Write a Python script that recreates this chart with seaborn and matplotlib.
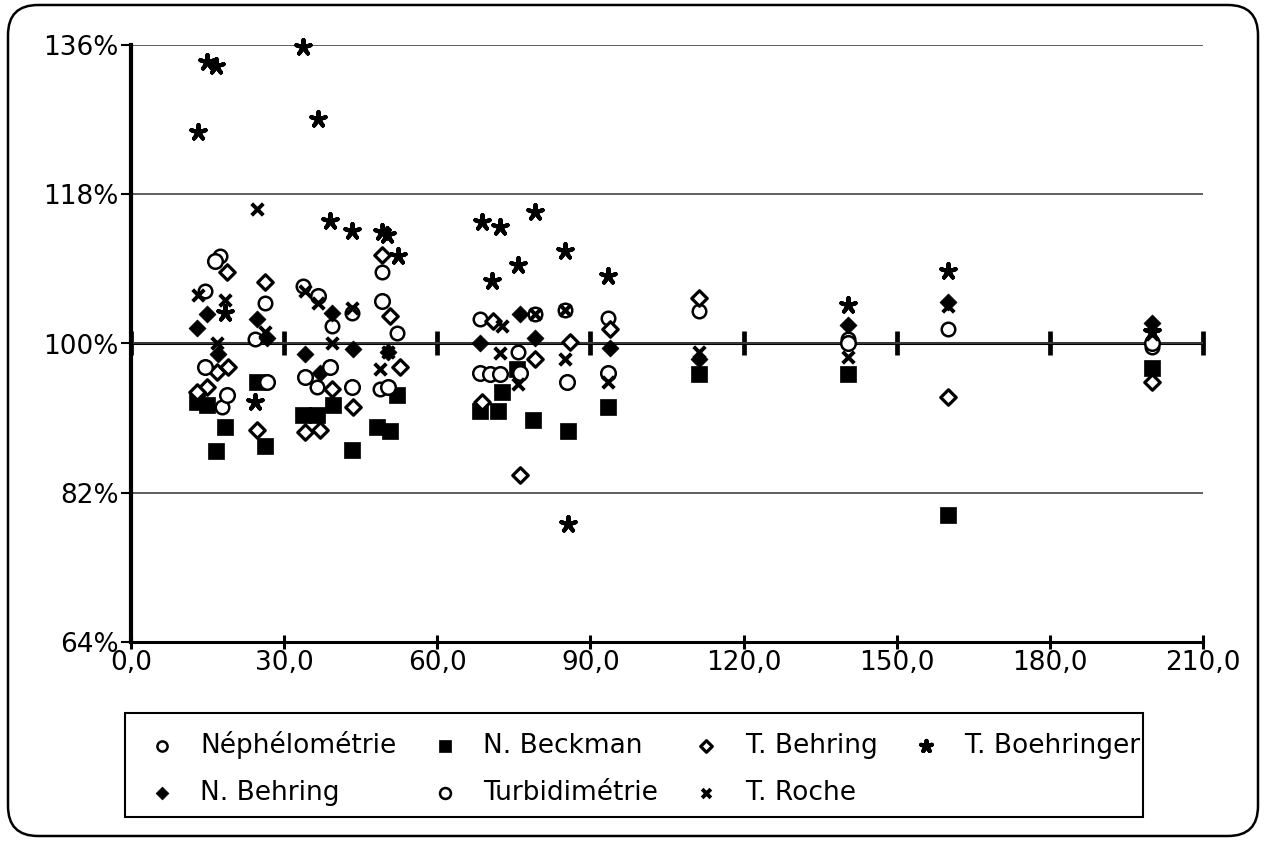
import matplotlib
matplotlib.use("Agg")
import matplotlib.pyplot as plt
import seaborn as sns
from matplotlib.ticker import FuncFormatter
from matplotlib.patches import FancyBboxPatch, Rectangle
from matplotlib.transforms import IdentityTransform

# ---------------- data ----------------
labels = ["Néphélométrie", "N. Beckman", "T. Behring", "T. Boehringer",
          "N. Behring", "Turbidimétrie", "T. Roche"]

neph_x = [14.5, 17.4, 26.2, 24.3, 17.8, 33.7, 39.4, 43.3, 49.2, 52.1, 36.4, 48.8,
          68.4, 79.1, 75.8, 85.0, 93.4, 111.3, 140.4, 160.0, 200.0]
neph_y = [106.3, 110.5, 104.9, 100.5, 92.4, 106.9, 102.1, 103.7, 108.6, 101.3, 94.7, 94.5,
          102.9, 103.5, 99.0, 104.1, 103.1, 103.9, 100.5, 101.7, 99.6]

beck_x = [12.9, 14.9, 18.4, 16.7, 24.7, 26.2, 33.7, 36.4, 39.6, 43.3, 48.2, 50.7, 52.1,
          68.4, 71.9, 72.7, 75.6, 78.7, 85.6, 93.4, 111.3, 140.4, 160.0, 200.0]
beck_y = [93.0, 92.6, 89.9, 87.0, 95.4, 87.6, 91.4, 91.4, 92.6, 87.2, 89.9, 89.4, 93.8,
          91.8, 91.8, 94.1, 96.9, 90.8, 89.4, 92.4, 96.3, 96.3, 79.3, 97.1]

tbeh_x = [18.8, 16.8, 19.0, 14.9, 12.9, 26.2, 24.7, 49.2, 50.7, 52.7, 39.4, 43.5, 34.1, 37.0,
          70.9, 68.8, 79.1, 86.0, 93.8, 76.2, 111.3, 160.0, 200.0]
tbeh_y = [108.6, 96.6, 97.2, 94.7, 94.1, 107.4, 89.6, 110.7, 103.3, 97.2, 94.5, 92.4, 89.3, 89.6,
          102.7, 93.0, 98.1, 100.2, 101.7, 84.2, 105.5, 93.6, 95.3]

tboe_x = [14.9, 16.6, 13.1, 33.7, 36.6, 24.3, 39.0, 43.3, 50.1, 49.2, 52.3, 18.4,
          68.8, 72.3, 79.1, 75.8, 70.7, 85.0, 93.4, 85.6, 140.4, 160.0, 200.0]
tboe_y = [133.9, 133.5, 125.5, 135.8, 127.1, 93.0, 114.8, 113.6, 113.1, 113.4, 110.6, 103.7,
          114.6, 114.0, 115.8, 109.5, 107.5, 111.1, 108.1, 78.2, 104.7, 108.7, 101.4]

nbeh_x = [14.9, 12.9, 17.0, 24.7, 26.6, 39.4, 34.1, 43.5, 50.3, 37.0,
          76.2, 79.1, 68.4, 93.8, 111.3, 140.4, 160.0, 200.0]
nbeh_y = [103.5, 101.9, 98.7, 102.9, 100.7, 103.7, 98.7, 99.3, 99.0, 96.5,
          103.5, 100.7, 100.1, 99.5, 98.1, 102.2, 105.0, 102.5]

turb_x = [16.5, 14.5, 18.8, 26.6, 36.6, 39.0, 34.1, 43.3, 49.2, 50.3,
          68.4, 70.3, 72.3, 76.2, 85.4, 93.4, 140.4, 200.0]
turb_y = [109.9, 97.2, 93.8, 95.4, 105.7, 97.2, 96.0, 94.8, 105.1, 94.8,
          96.5, 96.3, 96.3, 96.5, 95.4, 96.5, 100.0, 100.1]

roche_x = [13.1, 18.4, 16.8, 26.2, 24.7, 34.1, 36.6, 43.3, 39.4, 48.8, 50.3,
           72.7, 72.3, 79.1, 85.0, 75.8, 93.4, 85.0, 111.3, 140.4, 160.0, 200.0]
roche_y = [105.9, 105.3, 100.1, 101.4, 116.2, 106.3, 104.9, 104.3, 100.1, 96.9, 99.0,
           102.1, 98.9, 103.5, 104.1, 95.1, 95.3, 98.1, 99.0, 98.4, 104.5, 101.1]

x_ticks = [0, 30, 60, 90, 120, 150, 180, 210]
y_ticks = [64, 82, 100, 118, 136]

# ---------------- figure ----------------
sns.set_theme(style="white")
plt.rcParams['font.family'] = ['DejaVu Sans']
plt.rcParams['text.color'] = 'black'

W, H = 1264, 842
fig = plt.figure(figsize=(W / 100, H / 100), dpi=100)
ax = fig.add_axes([131 / W, 1 - 642 / H, (1203 - 131) / W, (642 - 45) / H])

open_kw = dict(color="white", edgecolor="black")
styles = {
    "Néphélométrie": dict(marker="o", s=95, linewidth=1.8, **open_kw),
    "N. Beckman": dict(marker="s", s=120, color="black", edgecolor="black", linewidth=0.5),
    "T. Behring": dict(marker="D", s=62, linewidth=2.3, **open_kw),
    "T. Boehringer": dict(marker=(5, 2, 0), s=115, color="black", edgecolor="black", linewidth=3.0),
    "N. Behring": dict(marker="D", s=75, color="black", edgecolor="black", linewidth=0.5),
    "Turbidimétrie": dict(marker="o", s=110, linewidth=1.8, **open_kw),
    "T. Roche": dict(marker="x", s=70, color="black", edgecolor="black", linewidth=2.8),
}
data = {
    "Néphélométrie": (neph_x, neph_y),
    "N. Beckman": (beck_x, beck_y),
    "T. Behring": (tbeh_x, tbeh_y),
    "T. Boehringer": (tboe_x, tboe_y),
    "N. Behring": (nbeh_x, nbeh_y),
    "Turbidimétrie": (turb_x, turb_y),
    "T. Roche": (roche_x, roche_y),
}

for i, lab in enumerate(labels):
    xs, ys = data[lab]
    sns.scatterplot(x=xs, y=ys, ax=ax, label=lab, clip_on=False, zorder=3 + i,
                    **styles[lab])

if ax.get_legend() is not None:
    ax.get_legend().remove()

ax.set_xlim(0, 210)
ax.set_ylim(64, 136)
ax.set_xticks(x_ticks)
ax.set_yticks(y_ticks)
ax.xaxis.set_major_formatter(FuncFormatter(lambda v, p: f"{v:.1f}".replace(".", ",")))
ax.yaxis.set_major_formatter(FuncFormatter(lambda v, p: f"{v:.0f}%"))

for sp in ["top", "right"]:
    ax.spines[sp].set_visible(False)
ax.spines["left"].set_linewidth(3.0)
ax.spines["left"].set_color("black")
ax.spines["bottom"].set_linewidth(2.2)
ax.spines["bottom"].set_color("black")

ax.tick_params(axis="x", direction="inout", length=10, width=2.2, bottom=True,
               labelsize=19, pad=1, colors="black")
ax.tick_params(axis="y", direction="out", length=7, width=1.5, left=True,
               labelsize=19, pad=2, colors="black")

ax.set_axisbelow(True)
ax.yaxis.grid(True, color="#444444", linewidth=1.2)
ax.xaxis.grid(False)
ax.set_xlabel("")
ax.set_ylabel("")

# thick 100 % reference axis with tick marks
sec = ax.secondary_xaxis((100 - 64) / (136 - 64))
sec.set_xticks(x_ticks)
sec.tick_params(direction="inout", length=17, width=3.4, labeltop=False,
                labelbottom=False, colors="black")
for sp in ["top", "bottom"]:
    sec.spines[sp].set_linewidth(2.2)
    sec.spines[sp].set_color("black")

# legend
handles, labs = ax.get_legend_handles_labels()
order = ["Néphélométrie", "N. Behring", "N. Beckman", "Turbidimétrie",
         "T. Behring", "T. Roche", "T. Boehringer"]
hmap = dict(zip(labs, handles))
leg = fig.legend([hmap[o] for o in order], order, loc="center left",
                 bbox_to_anchor=(149 / W, 1 - 768.5 / H), ncol=4, frameon=False,
                 fontsize=19, handlelength=1.0, handletextpad=0.95, columnspacing=1.33,
                 labelspacing=0.78, borderpad=0, borderaxespad=0, markerscale=0.75)
for t in leg.get_texts():
    t.set_color("black")

fig.patches.append(Rectangle((125, H - 817), 1018, 104, transform=IdentityTransform(),
                             fill=False, edgecolor="black", linewidth=1.5))
fig.patches.append(FancyBboxPatch((8, H - 836), 1250, 831,
                                  boxstyle="round,pad=0,rounding_size=30",
                                  transform=IdentityTransform(), fill=False,
                                  edgecolor="black", linewidth=1.8))

fig.savefig("out.png", dpi=100, facecolor="white")
